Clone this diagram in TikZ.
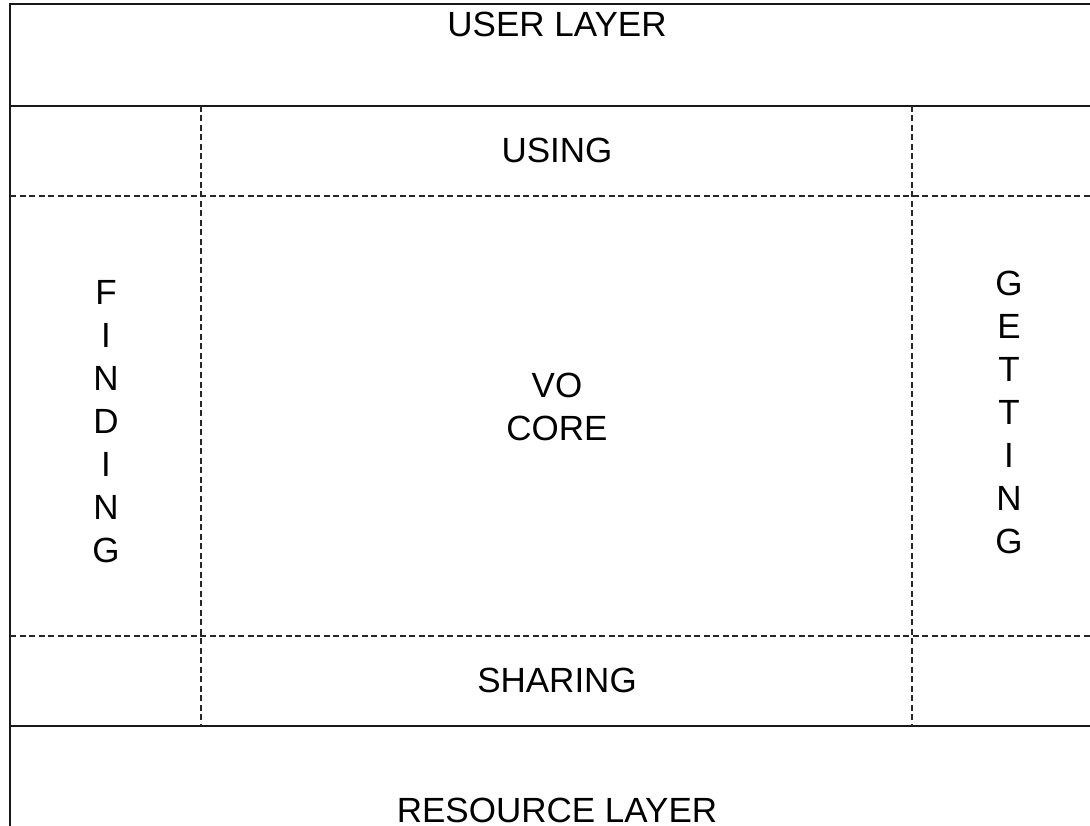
\documentclass[tikz,border=0pt]{standalone}
\usepackage{fontspec}
\setmainfont{Liberation Sans}
\tikzset{
	edge/.style={line width=1.3pt, color=black!90},
	grid/.style={line width=1.1pt, color=black!85, dash pattern=on 6pt off 3.5pt},
	label/.style={font=\fontsize{35}{43}\selectfont, align=center, inner sep=0pt}
}

\begin{document}
\begin{tikzpicture}[x=1pt, y=-1pt]
		%%%%% START %%%%%
		\useasboundingbox (0, 0) rectangle (1090, 826);
		\clip (0, 0) rectangle (1090, 826);
		
		\draw[fill=white, draw=none] (0, 0) rectangle (1090, 826);
		
		\draw[edge] (10, 830) -- (10, 4) -- (1110, 4);
		\draw[edge] (10, 106) -- (1110, 106);
		\draw[edge] (10, 726) -- (1110, 726);
		
		\draw[grid] (10, 196) -- (1110, 196);
		\draw[grid] (10, 636) -- (1110, 636);
		\draw[grid] (201, 106) -- (201, 726);
		\draw[grid] (912, 106) -- (912, 726);
		
		\node[label] (user) at (557, 24) {USER LAYER};
		\node[label] (using) at (557, 150) {USING};
		\node[label] (core) at (557, 407) {VO\\CORE};
		\node[label] (finding) at (106, 422) {F\\I\\N\\D\\I\\N\\G};
		\node[label] (getting) at (1009, 412) {G\\E\\T\\T\\I\\N\\G};
		\node[label] (sharing) at (557, 680) {SHARING};
		\node[label] (resource) at (557, 810) {RESOURCE LAYER};
		
		%%%%% END %%%%%
	\end{tikzpicture}
\end{document}
